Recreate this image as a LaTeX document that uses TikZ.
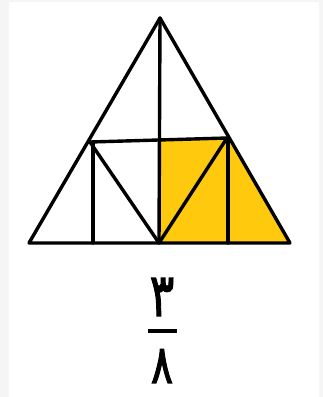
\documentclass[tikz,border=0pt]{standalone}
\usepackage{fontspec}
\usepackage{graphicx}
\newfontfamily\arabicfont[Script=Arabic]{DejaVu Sans}
\TeXXeTstate=1
\newcommand{\heavytext}[1]{\special{pdf:literal direct 0.9 w 2 Tr}#1\special{pdf:literal direct 0 Tr}}
\definecolor{bggray}{HTML}{F5F5F5}
\definecolor{fillyellow}{HTML}{FFC90E}
\begin{document}
\begin{tikzpicture}[x=1pt,y=-1pt,
  edge/.style={line width=3.4pt, line join=round, line cap=round, black},
  digit/.style={font=\arabicfont, inner sep=0pt}]
\useasboundingbox (0,0) rectangle (323,397);
\fill[bggray] (0,0) rectangle (323,397);
\fill[white] (9,2) rectangle (319,397);
\coordinate (A) at (160,18);
\coordinate (L) at (29,243);
\coordinate (R) at (290,243);
\coordinate (M) at (159,243);
\coordinate (P) at (90,142);
\coordinate (Q) at (227,138);
\coordinate (C) at (159.5,140);
\coordinate (P0) at (93,243);
\coordinate (Q0) at (228,243);
\coordinate (Pt) at (93,142);
\coordinate (Qt) at (228,138);
\fill[fillyellow] (C) -- (Q) -- (R) -- (M) -- cycle;
\draw[edge] (A) -- (L) -- (R) -- cycle;
\draw[edge] (A) -- (M);
\draw[edge] (P) -- (Q);
\draw[edge] (Pt) -- (P0);
\draw[edge] (Qt) -- (Q0);
\draw[edge] (P) -- (M) -- (Q);
\node[digit] (num) at (162,297) {\fontsize{46}{48}\selectfont\scalebox{1}[1.3]{\heavytext{\beginR ۳\endR}}};
\node[digit] (den) at (162,366) {\fontsize{41}{43}\selectfont\scalebox{1}[1.3]{\heavytext{\beginR ۸\endR}}};
\draw[line width=3.6pt] (148,331) -- (177,331);
\end{tikzpicture}
\end{document}
